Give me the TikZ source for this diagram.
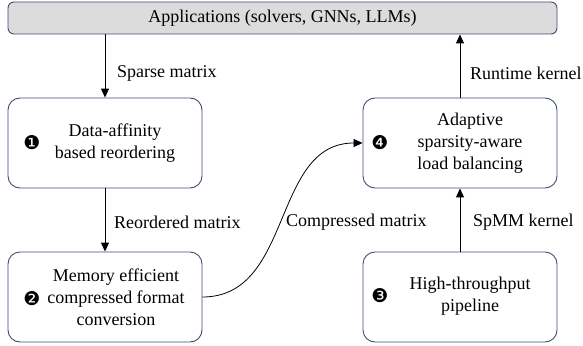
\documentclass[tikz,border=0pt]{standalone}
\usepackage{fontspec}
\setmainfont{Liberation Serif}
\newfontfamily\dingfont{DejaVu Sans}
\usetikzlibrary{arrows.meta}
\definecolor{boxedge}{HTML}{3F4E6E}
\definecolor{appfill}{HTML}{DCDCDC}

\begin{document}
\begin{tikzpicture}[x=1pt,y=-1pt,
  font=\fontsize{18}{22}\selectfont,
  stage/.style={draw=boxedge, line width=0.9pt, rounded corners=12pt,
    minimum width=194pt, minimum height=90pt, inner sep=0pt},
  stagetext/.style={align=center, inner sep=0pt},
  flow/.style={-{Triangle[length=9pt,width=8pt]}, line width=1pt},
  lbl/.style={anchor=west, inner sep=0pt},
  num/.style={font=\dingfont\fontsize{19}{19}\selectfont, inner sep=0pt}]
\useasboundingbox (0,0) rectangle (583,345);

% application layer
\node[draw=boxedge, fill=appfill, line width=0.9pt, rounded corners=6pt,
      minimum width=549pt, minimum height=32pt, inner sep=0pt]
      (app) at (282.5,18) {Applications (solvers, GNNs, LLMs)};

% stage boxes
\node[stage] (s1) at (105,143) {};
\node[stage] (s2) at (105,297) {};
\node[stage] (s4) at (460,143) {};
\node[stage] (s3) at (460,297) {};

% stage texts and numbers
\node[stagetext] (t1) at (115,143) {Data-affinity\\based reordering};
\node[num] (n1) at (32,143) {❶};
\node[stagetext] (t2) at (116,297) {Memory efficient\\compressed format\\conversion};
\node[num] (n2) at (32,299) {❷};
\node[stagetext] (t4) at (470,143) {Adaptive\\sparsity-aware\\load balancing};
\node[num] (n4) at (380,143) {❹};
\node[stagetext] (t3) at (470,296) {High-throughput\\pipeline};
\node[num] (n3) at (380,296) {❸};

% data flow
\draw[flow] (app.south -| s1.north) -- (s1.north);
\draw[flow] (s1.south) -- (s2.north);
\draw[flow] (s3.north) -- (s4.south);
\draw[flow] (s4.north) -- (app.south -| s4.north);
\draw[-{Triangle[length=9pt,width=8pt]}, line width=0.8pt]
  (s2.east) to[out=0, in=180, looseness=1.05] (s4.west);

% edge labels
\node[lbl] (l1) at (117,73) {Sparse matrix};
\node[lbl] (l2) at (114,222) {Reordered matrix};
\node[lbl] (l3) at (286,222) {Compressed matrix};
\node[lbl] (l4) at (473,222) {SpMM kernel};
\node[lbl] (l5) at (470,73) {Runtime kernel};
\end{tikzpicture}
\end{document}
